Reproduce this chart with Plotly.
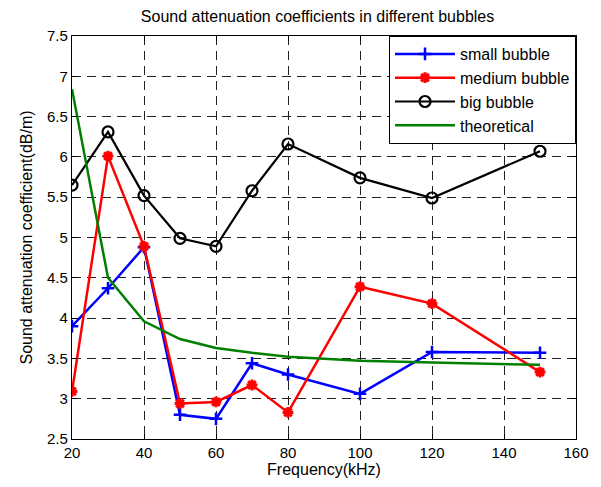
import plotly.graph_objects as go

freq = [20, 30, 40, 50, 60, 70, 80, 100, 120, 150]
small_bubble = [3.90, 4.37, 4.88, 2.80, 2.75, 3.44, 3.30, 3.06, 3.58, 3.57]
medium_bubble = [3.09, 6.01, 4.89, 2.94, 2.96, 3.17, 2.83, 4.39, 4.18, 3.33]
big_bubble = [5.65, 6.31, 5.52, 4.99, 4.89, 5.58, 6.16, 5.74, 5.49, 6.07]
theoretical = [6.84, 4.50, 3.96, 3.74, 3.63, 3.57, 3.52, 3.47, 3.45, 3.42]

x_ticks = [20, 40, 60, 80, 100, 120, 140, 160]
y_ticks = [2.5, 3, 3.5, 4, 4.5, 5, 5.5, 6, 6.5, 7, 7.5]
y_tick_text = ["2.5", "3", "3.5", "4", "4.5", "5", "5.5", "6", "6.5", "7", "7.5"]

FONT = "Liberation Sans, Arial"

fig = go.Figure()
fig.add_trace(go.Scatter(x=freq, y=small_bubble, name="small bubble", mode="lines+markers",
                         line=dict(color="#0000ff", width=2.5),
                         marker=dict(symbol="cross-thin", size=9, line=dict(color="#0000ff", width=2.5))))
fig.add_trace(go.Scatter(x=freq, y=medium_bubble, name="medium bubble", mode="lines+markers",
                         line=dict(color="#ff0000", width=2.5),
                         marker=dict(symbol="asterisk", size=9, line=dict(color="#ff0000", width=3))))
fig.add_trace(go.Scatter(x=freq, y=big_bubble, name="big bubble", mode="lines+markers",
                         line=dict(color="#000000", width=2.2),
                         marker=dict(symbol="circle-open", size=11, line=dict(color="#000000", width=2.2))))
fig.add_trace(go.Scatter(x=freq, y=theoretical, name="theoretical", mode="lines",
                         line=dict(color="#008000", width=2.5)))

axis_common = dict(showline=True, linecolor="black", linewidth=1.2, mirror="ticks",
                   ticks="inside", ticklen=5, tickcolor="black",
                   showgrid=True, gridcolor="#222222", griddash="9px,6px", gridwidth=1,
                   zeroline=False, tickfont=dict(family=FONT, size=15, color="black"))

fig.update_xaxes(range=[20, 160], tickvals=x_ticks,
                 title=dict(text="Frequency(kHz)", font=dict(family=FONT, size=16, color="black"), standoff=3),
                 **axis_common)
fig.update_yaxes(range=[2.5, 7.5], tickvals=y_ticks, ticktext=y_tick_text,
                 title=dict(text="Sound attenuation coefficient(dB/m)", font=dict(family=FONT, size=16, color="black"), standoff=10),
                 **axis_common)

fig.update_layout(
    width=593, height=479,
    margin=dict(l=64, r=22, t=28, b=45),
    paper_bgcolor="white", plot_bgcolor="white",
    title=dict(text="Sound attenuation coefficients in different bubbles",
               font=dict(family=FONT, size=16, color="black"),
               x=0.522, xanchor="center", y=0.982, yanchor="middle"),
    legend=dict(x=1, y=1, xanchor="right", yanchor="top", bgcolor="white",
                bordercolor="black", borderwidth=1,
                font=dict(family=FONT, size=16, color="black"),
                itemwidth=60, tracegroupgap=0),
    showlegend=True,
)

fig.write_html("out.html")
